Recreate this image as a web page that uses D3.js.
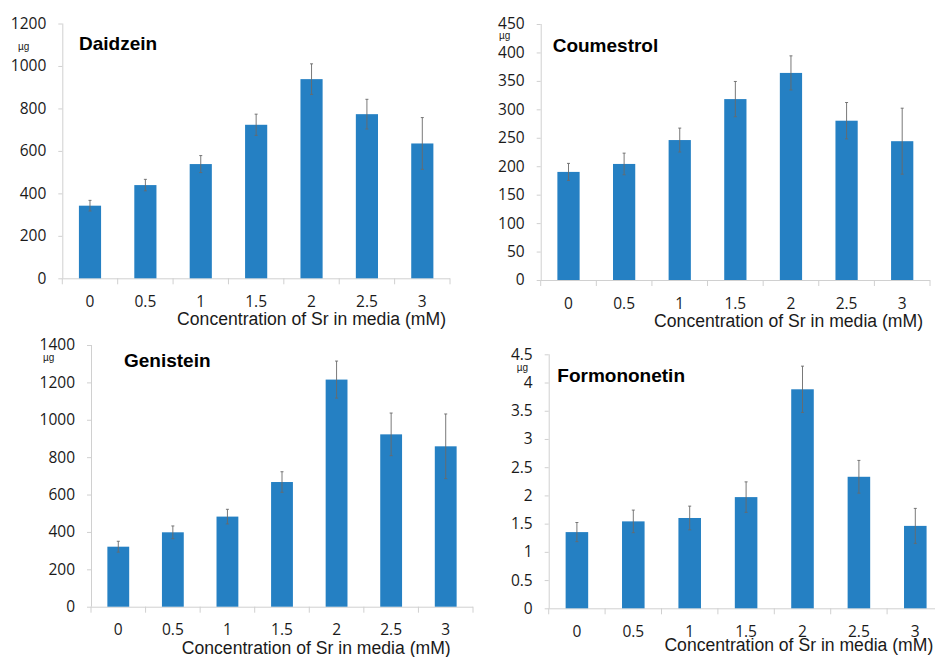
<!DOCTYPE html>
<html>
<head>
<meta charset="utf-8">
<script src="https://cdn.jsdelivr.net/npm/d3@7"></script>
<style>
  body { margin: 0; background: #fff; }
</style>
</head>
<body>
<script>
let width = 935
let height = 657

// concentrations of Sr in media (mM)
let concLabels = ['0', '0.5', '1', '1.5', '2', '2.5', '3']

// mean and error (µg) for each compound
let daidzein = [342, 439, 538, 723, 938, 773, 635]
let daidzeinErr = [25, 27, 40, 50, 72, 70, 122]
let daidzeinTicks = [0, 200, 400, 600, 800, 1000, 1200]

let coumestrol = [190, 204, 246, 318, 364, 280, 244]
let coumestrolErr = [15, 19, 21, 31, 30, 32, 58]
let coumestrolTicks = [0, 50, 100, 150, 200, 250, 300, 350, 400, 450]

let genistein = [321, 398, 482, 667, 1215, 922, 858]
let genisteinErr = [29, 34, 39, 55, 99, 114, 173]
let genisteinTicks = [0, 200, 400, 600, 800, 1000, 1200, 1400]

let formononetin = [1.35, 1.54, 1.6, 1.97, 3.88, 2.33, 1.46]
let formononetinErr = [0.17, 0.2, 0.21, 0.27, 0.41, 0.29, 0.31]
let formononetinTicks = [0, 0.5, 1, 1.5, 2, 2.5, 3, 3.5, 4, 4.5]

let xTitle = 'Concentration of Sr in media (mM)'
let unit = 'µg'
let barColor = '#2580c3'
let axisColor = '#d0d0d0'
let tickFont = '"Open Sans", "Noto Sans", sans-serif'
let textFont = '"Liberation Sans", Arial, sans-serif'

let svg = d3.select('body')
  .append('svg')
  .attr('width', width)
  .attr('height', height)

drawPanel({name: 'Daidzein', values: daidzein, errs: daidzeinErr, ticks: daidzeinTicks,
  left: 62.3, right: 450, zero: 278.3, top: 23.5,
  nameX: 79, nameY: 50, unitX: 18, unitY: 50, titleX: 446, titleY: 325})

drawPanel({name: 'Coumestrol', values: coumestrol, errs: coumestrolErr, ticks: coumestrolTicks,
  left: 540.7, right: 930, zero: 280, top: 24,
  nameX: 552.7, nameY: 51.7, unitX: 499, unitY: 38.5, titleX: 923, titleY: 327})

drawPanel({name: 'Genistein', values: genistein, errs: genisteinErr, ticks: genisteinTicks,
  left: 91, right: 473, zero: 606.7, top: 345,
  nameX: 124, nameY: 367, unitX: 43, unitY: 361, titleX: 450.7, titleY: 653.5})

drawPanel({name: 'Formononetin', values: formononetin, errs: formononetinErr, ticks: formononetinTicks,
  left: 548.7, right: 943.5, zero: 608.3, top: 354.3,
  nameX: 557.3, nameY: 382, unitX: 516.7, unitY: 371, titleX: 933.3, titleY: 650.7})


function drawPanel(p) {
  let data = p.values.map((v, i) => ({key: concLabels[i], value: v, err: p.errs[i]}))

  let scaleX = d3.scaleBand()
    .domain(concLabels)
    .range([p.left, p.right])
    .paddingInner(0.6)
    .paddingOuter(0.3)

  let scaleY = d3.scaleLinear()
    .domain([0, d3.max(p.ticks)])
    .range([p.zero, p.top])

  let g = svg.append('g')

  // y axis
  let yAxis = g.append('g')
    .attr('transform', 'translate(' + p.left + ',0)')
    .call(d3.axisLeft(scaleY).tickValues(p.ticks).tickSize(4).tickPadding(12).tickFormat(d => String(d)))
  yAxis.select('.domain').attr('stroke', axisColor).attr('d', 'M0.5,' + p.zero + 'V' + p.top)
  yAxis.selectAll('.tick line').attr('stroke', axisColor)
  yAxis.selectAll('.tick text')
    .attr('fill', '#1a1a1a')
    .style('font-family', tickFont)
    .style('font-size', '15.5px')

  // x axis: baseline plus separators between categories
  let step = scaleX.step()
  let bounds = d3.range(concLabels.length + 1).map(i => p.left + i * step)
  g.append('line')
    .attr('x1', p.left).attr('x2', p.right)
    .attr('y1', p.zero + 0.5).attr('y2', p.zero + 0.5)
    .attr('stroke', axisColor)
  g.selectAll('.xsep')
    .data(bounds)
    .enter()
    .append('line')
    .attr('class', 'xsep')
    .attr('x1', d => d).attr('x2', d => d)
    .attr('y1', p.zero).attr('y2', p.zero + 6)
    .attr('stroke', axisColor)

  g.selectAll('.xlab')
    .data(concLabels)
    .enter()
    .append('text')
    .attr('class', 'xlab')
    .attr('x', d => scaleX(d) + scaleX.bandwidth() / 2)
    .attr('y', p.zero + 28.5)
    .attr('text-anchor', 'middle')
    .style('font-family', tickFont)
    .style('font-size', '15.5px')
    .attr('fill', '#1a1a1a')
    .text(d => d)

  // bars
  g.selectAll('.bar')
    .data(data)
    .enter()
    .append('rect')
    .attr('class', 'bar')
    .attr('x', d => scaleX(d.key))
    .attr('y', d => scaleY(d.value))
    .attr('width', scaleX.bandwidth())
    .attr('height', d => p.zero - scaleY(d.value))
    .attr('fill', barColor)

  // error bars
  let eb = g.selectAll('.err')
    .data(data)
    .enter()
    .append('g')
    .attr('class', 'err')
    .attr('stroke', '#6a6a6a')
    .attr('stroke-width', 0.9)
  eb.append('line')
    .attr('x1', d => scaleX(d.key) + scaleX.bandwidth() / 2)
    .attr('x2', d => scaleX(d.key) + scaleX.bandwidth() / 2)
    .attr('y1', d => scaleY(d.value + d.err))
    .attr('y2', d => scaleY(d.value - d.err))
  eb.selectAll('.cap')
    .data(d => [d.value + d.err, d.value - d.err].map(v => ({key: d.key, v: v})))
    .enter()
    .append('line')
    .attr('class', 'cap')
    .attr('x1', d => scaleX(d.key) + scaleX.bandwidth() / 2 - 1.5)
    .attr('x2', d => scaleX(d.key) + scaleX.bandwidth() / 2 + 1.5)
    .attr('y1', d => scaleY(d.v))
    .attr('y2', d => scaleY(d.v))

  // compound name, unit, axis title
  g.append('text')
    .attr('x', p.nameX)
    .attr('y', p.nameY)
    .style('font-family', textFont)
    .style('font-weight', 'bold')
    .style('font-size', '19px')
    .attr('fill', '#000')
    .text(p.name)

  g.append('text')
    .attr('x', p.unitX)
    .attr('y', p.unitY)
    .style('font-family', textFont)
    .style('font-size', '10px')
    .attr('fill', '#1a1a1a')
    .text(unit)

  g.append('text')
    .attr('x', p.titleX)
    .attr('y', p.titleY)
    .attr('text-anchor', 'end')
    .style('font-family', textFont)
    .style('font-size', '17.6px')
    .attr('fill', '#1a1a1a')
    .text(xTitle)
}
</script>
</body>
</html>
